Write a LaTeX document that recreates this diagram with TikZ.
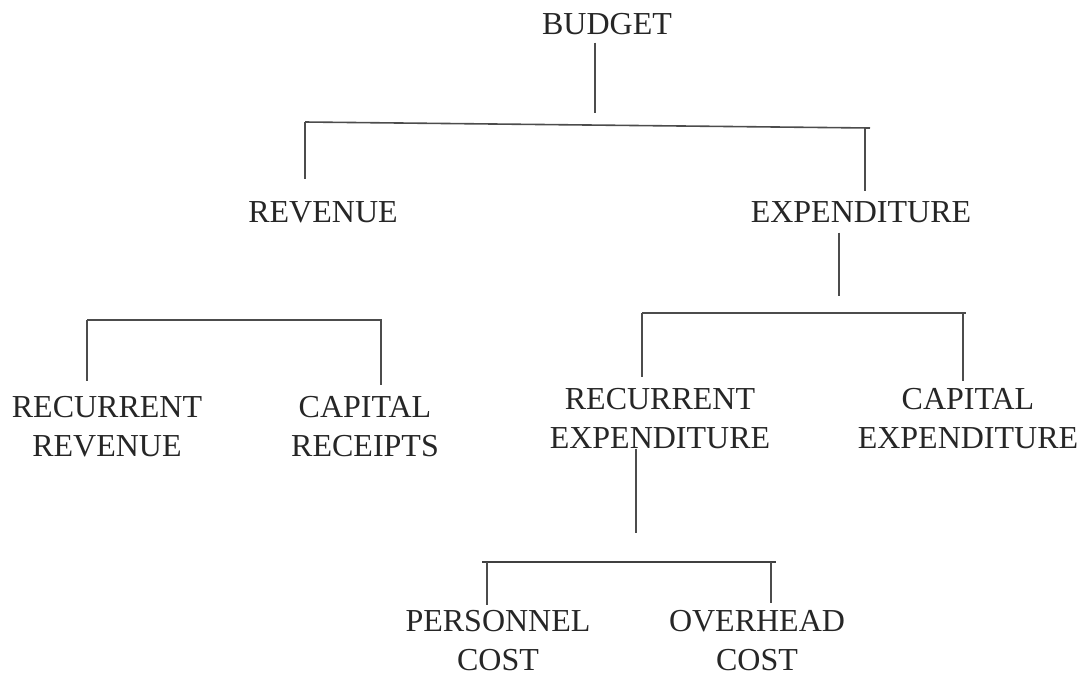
\documentclass[tikz,border=0pt]{standalone}
\usepackage{fontspec}
\setmainfont{Liberation Serif}
\usetikzlibrary{positioning}

\tikzset{
	label/.style={font=\fontsize{16}{19.5}\selectfont, align=center, anchor=base, inner sep=0pt, text=black!85},
	link/.style={draw=black!70, line width=0.8pt},
	boldlink/.style={draw=black!75, line width=1.4pt}
}

\begin{document}
\begin{tikzpicture}[x=0.5pt,y=-0.5pt]
		\useasboundingbox (0,0) rectangle (1084,676);

		\draw (607,34) node [label] (budget) {BUDGET};
		\draw (323,222) node [label] (rev) {REVENUE};
		\draw (861,222) node [label] (exp) {EXPENDITURE};
		\draw (107,456) node [label] (rrev) {RECURRENT\\REVENUE};
		\draw (365,456) node [label] (crec) {CAPITAL\\RECEIPTS};
		\draw (660,448) node [label] (rexp) {RECURRENT\\EXPENDITURE};
		\draw (968,448) node [label] (cexp) {CAPITAL\\EXPENDITURE};
		\draw (498,670) node [label] (pers) {PERSONNEL\\COST};
		\draw (757,670) node [label] (over) {OVERHEAD\\COST};

		% bar ends
		\coordinate (b0) at (595,113);
		\coordinate (bl) at (305,122);
		\coordinate (br) at (870,128);
		\coordinate (e0) at (839,296);
		\coordinate (el) at (642,313);
		\coordinate (er) at (966,313);
		\coordinate (vl) at (87,320);
		\coordinate (vr) at (382,320);
		\coordinate (r0) at (636,533);
		\coordinate (rl) at (482,562);
		\coordinate (rr) at (776,562);

		\draw[link] ([xshift=-6pt,yshift=-4pt]budget.south) -- (b0);
		\draw[link] (bl) -- (br);
		\draw[link] (bl) -- ([yshift=11pt]bl |- rev.north);
		\draw[link] ([xshift=-2.5pt]br) -- ([xshift=-2.5pt,yshift=5pt]br |- exp.north);

		\draw[link] ([yshift=-5pt]exp.south -| e0) -- (e0);
		\draw[link] (el) -- (er);
		\draw[link] (el) -- ([yshift=5pt]el |- rexp.north);
		\draw[link] ([xshift=-1.5pt]er) -- ([xshift=-1.5pt,yshift=3pt]er |- cexp.north);

		\draw[link] (vl) -- (vr);
		\draw[link] (vl) -- ([yshift=7pt]vl |- rrev.north);
		\draw[link] ([xshift=-0.5pt]vr) -- ([xshift=-0.5pt,yshift=5pt]vr |- crec.north);

		\draw[link] (rexp.south -| r0) -- (r0);
		\draw[boldlink] (rl) -- (rr);
		\draw[link] ([xshift=2.5pt]rl) -- ([xshift=2.5pt,yshift=2pt]rl |- pers.north);
		\draw[link] ([xshift=-2.5pt]rr) -- ([xshift=-2.5pt,yshift=3pt]rr |- over.north);
\end{tikzpicture}
\end{document}
